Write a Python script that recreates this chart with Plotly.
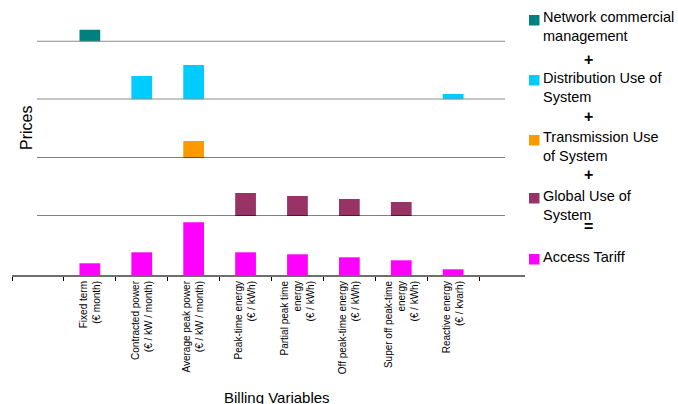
import plotly.graph_objects as go

# ---------------- data ----------------
categories = [
    "Fixed term<br>(€ month)",
    "Contracted power<br>(€ / kW / month)",
    "Average peak power<br>(€ / kW / month)",
    "Peak-time energy<br>(€ / kWh)",
    "Partial peak time<br>energy<br>(€ / kWh)",
    "Off peak-time energy<br>(€ / kWh)",
    "Super off peak-time<br>energy<br>(€ / kWh)",
    "Reactive energy<br>(€ / kvarh)",
]
network_commercial = [12, 0, 0, 0, 0, 0, 0, 0]
distribution_use = [0, 23.5, 34.5, 0, 0, 0, 0, 5.5]
transmission_use = [0, 0, 17, 0, 0, 0, 0, 0]
global_use = [0, 0, 0, 23, 20, 17, 14, 0]
access_tariff = [11.7, 22.7, 52.7, 22.7, 20.7, 17.7, 14.7, 5.7]

series_names = ["Network commercial<br>management", "Distribution Use of<br>System",
                "Transmission Use<br>of System", "Global Use of<br>System", "Access Tariff"]
series_values = [network_commercial, distribution_use, transmission_use, global_use, access_tariff]
series_colors = ["#008080", "#00CCFF", "#FF9900", "#993366", "#FF00FF"]
operators = ["+", "+", "+", "="]

# ---------------- layout geometry (pixels) ----------------
W, H = 678, 404
ML, MR, MT, MB = 12, 153, 10, 129
PW, PH = W - ML - MR, H - MT - MB
bottom_px = H - MB
baselines_px = [41.7, 99.5, 158, 216, bottom_px]   # panel baselines, top to bottom
tops_px = [MT, 41.7, 99.5, 158, 216]

def py(ypx):
    return (bottom_px - ypx) / PH

def px_(xpx):
    return (xpx - ML) / PW

FONT = "Arial, Liberation Sans, sans-serif"
x_pos = list(range(1, len(categories) + 1))

fig = go.Figure()
axis_names = ["y", "y2", "y3", "y4", "y5"]
layout_axes = {}
for i, (name, vals, col) in enumerate(zip(series_names, series_values, series_colors)):
    fig.add_trace(go.Bar(x=x_pos, y=vals, marker=dict(color=col, line=dict(width=0)),
                         width=0.4, name=name, showlegend=False,
                         xaxis="x", yaxis=axis_names[i]))
    key = "yaxis" if i == 0 else f"yaxis{i+1}"
    hpx = baselines_px[i] - tops_px[i]
    layout_axes[key] = dict(domain=[py(baselines_px[i]), py(tops_px[i])],
                            range=[0, hpx], visible=False, anchor="x", fixedrange=True)

shapes = []
# panel separator lines
line_styles = [("#8c8c8c", 2), ("#8c8c8c", 2), ("#000000", 1.2), ("#000000", 1.2)]
for i in range(4):
    c, w = line_styles[i]
    shapes.append(dict(type="line", xref="paper", yref=axis_names[i],
                       x0=px_(37), x1=px_(505), y0=0, y1=0,
                       line=dict(color=c, width=w)))

annotations = []
# legend (custom, with operators)
legend_text_y = [26.7, 87.5, 146.2, 205.8, 256.7]
legend_sq_y = [15, 75, 135, 193, 254]
for i, (name, col) in enumerate(zip(series_names, series_colors)):
    shapes.append(dict(type="rect", xref="paper", yref="paper",
                       x0=px_(529), x1=px_(539.5), y0=py(legend_sq_y[i]), y1=py(legend_sq_y[i] + 10.5),
                       fillcolor=col, line=dict(width=0)))
    annotations.append(dict(xref="paper", yref="paper", x=px_(541), y=py(legend_text_y[i]),
                            xanchor="left", yanchor="middle", align="left", showarrow=False,
                            text=name, font=dict(family=FONT, size=14.5, color="#000000")))
op_y = [60, 116.7, 174, 226.7]
for i, op in enumerate(operators):
    annotations.append(dict(xref="paper", yref="paper", x=px_(588), y=py(op_y[i]),
                            xanchor="center", yanchor="middle", showarrow=False,
                            text=f"<b>{op}</b>", font=dict(family=FONT, size=16, color="#000000")))

# axis titles
annotations.append(dict(xref="paper", yref="paper", x=px_(26), y=py(128),
                        xanchor="center", yanchor="middle", showarrow=False, textangle=-90,
                        text="Prices", font=dict(family=FONT, size=16, color="#000000")))
annotations.append(dict(xref="paper", yref="paper", x=px_(277), y=py(397),
                        xanchor="center", yanchor="middle", showarrow=False,
                        text="Billing Variables", font=dict(family=FONT, size=15, color="#000000")))

fig.update_layout(
    width=W, height=H,
    margin=dict(l=ML, r=MR, t=MT, b=MB, pad=0),
    paper_bgcolor="white", plot_bgcolor="white",
    showlegend=False,
    xaxis=dict(range=[-0.5, -0.5 + PW / 51.9], anchor="y5", domain=[0, 1],
               tickmode="array", tickvals=x_pos, ticktext=categories, ticks="",
               tickangle=-90, tickfont=dict(family=FONT, size=10, color="#000000"),
               showline=True, linecolor="#6e6e6e", linewidth=2, showgrid=False, zeroline=False,
               minor=dict(tickmode="linear", tick0=-0.5, dtick=1, ticks="outside",
                          ticklen=4, tickwidth=1, tickcolor="#000000", showgrid=False),
               fixedrange=True),
    shapes=shapes, annotations=annotations,
    **layout_axes,
)

fig.write_html("out.html")
